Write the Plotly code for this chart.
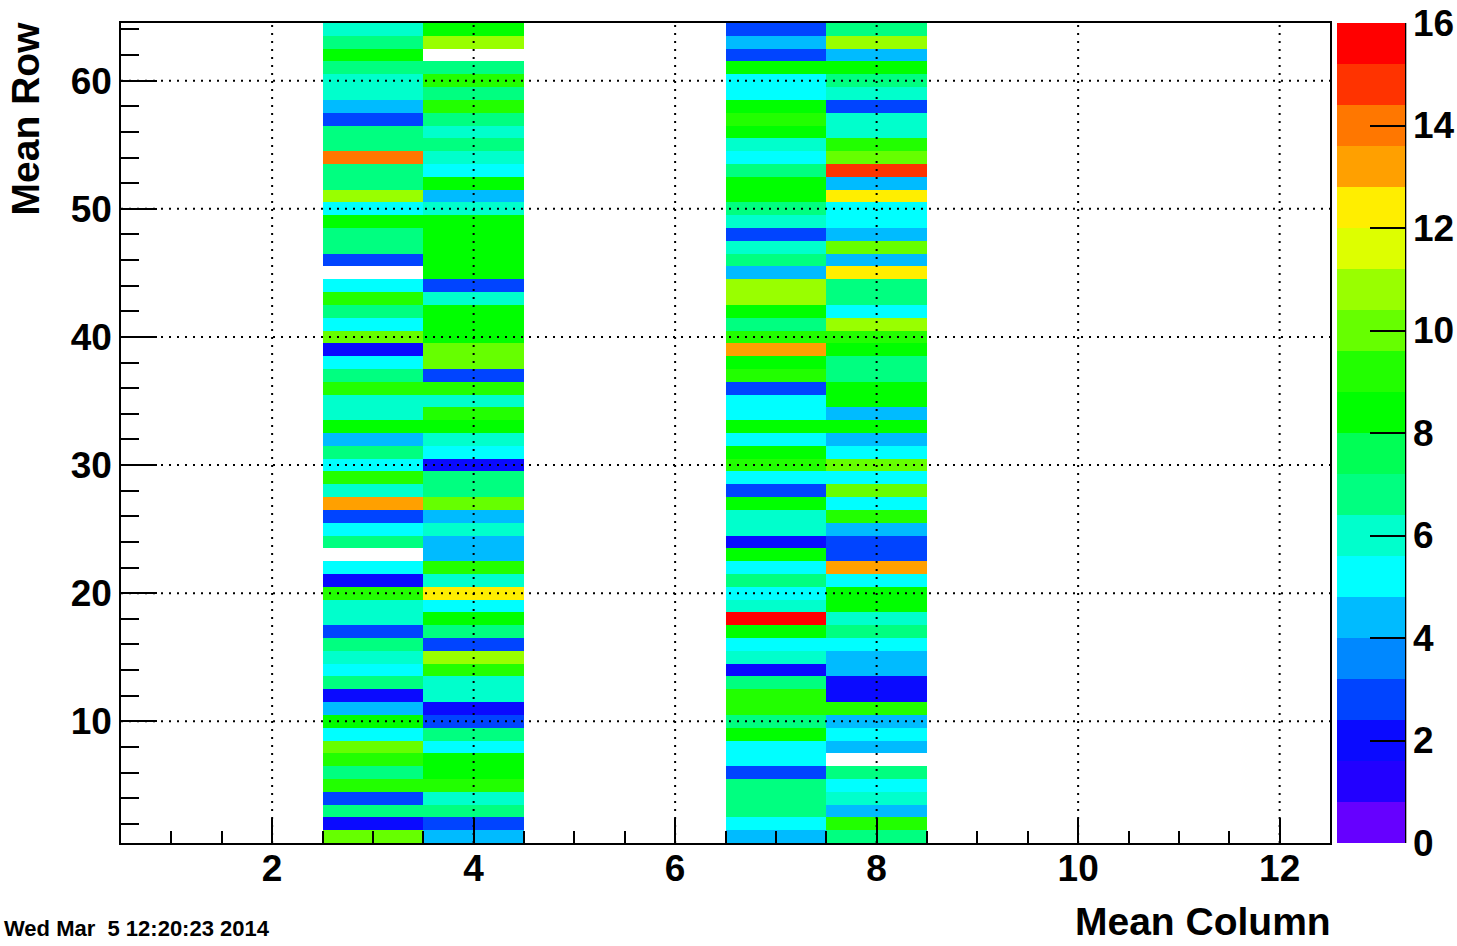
import plotly.graph_objects as go

# ---------------- data (counts per bin, rows 1..64) ----------------
columns = [3, 4, 7, 8]
col3 = [10, 2, 7, 3, 9, 7, 9, 10, 5, 8, 4, 2, 7, 5, 6, 7, 3, 6, 6, 9, 2, 5, 0, 7, 5, 3, 13, 6, 9, 5, 7, 4,
        8, 6, 6, 9, 7, 5, 2, 10, 5, 7, 9, 5, 0, 3, 7, 7, 8, 5, 11, 7, 7, 14, 7, 7, 3, 4, 6, 6, 7, 8, 7, 6]
col4 = [4, 3, 7, 6, 9, 8, 8, 5, 7, 3, 2, 6, 6, 9, 11, 3, 7, 8, 5, 12, 6, 9, 4, 4, 6, 4, 10, 7, 7, 2, 5, 6,
        8, 9, 6, 9, 3, 10, 10, 8, 8, 8, 6, 3, 8, 8, 8, 8, 8, 6, 4, 8, 5, 6, 7, 6, 7, 9, 7, 9, 7, 0, 11, 8]
col7 = [4, 5, 7, 7, 7, 3, 5, 5, 8, 7, 9, 9, 7, 2, 6, 5, 8, 16, 6, 5, 7, 5, 8, 2, 6, 6, 8, 3, 5, 9, 8, 5,
        8, 5, 5, 3, 9, 8, 13, 9, 7, 8, 11, 11, 4, 7, 6, 3, 6, 7, 8, 8, 7, 5, 6, 8, 9, 8, 5, 5, 8, 3, 4, 3]
col8 = [7, 9, 4, 6, 5, 7, 0, 4, 5, 4, 9, 2, 2, 4, 4, 5, 7, 6, 8, 8, 5, 13, 3, 3, 4, 9, 5, 10, 5, 10, 5, 4,
        8, 4, 8, 8, 7, 7, 8, 9, 11, 5, 7, 7, 12, 4, 10, 4, 5, 5, 12, 4, 15, 10, 9, 6, 6, 3, 6, 7, 8, 4, 11, 7]

n_cols = 12
n_rows = 64
x_ticks = [2, 4, 6, 8, 10, 12]
y_ticks = [10, 20, 30, 40, 50, 60]
z_ticks = [0, 2, 4, 6, 8, 10, 12, 14, 16]
z_min, z_max = 0, 16

palette = ["#6600ff", "#2200ff", "#0a0aff", "#0044ff", "#0088ff", "#00bbff", "#00ffff",
           "#00ffcc", "#00ff80", "#00ff55", "#00ff00", "#22ff00", "#66ff00", "#99ff00",
           "#ddff00", "#ffee00", "#ffa000", "#ff7700", "#ff3300", "#ff0000"]

# ---------------- build grid ----------------
data_cols = {3: col3, 4: col4, 7: col7, 8: col8}
xs = list(range(1, n_cols + 1))
ys = list(range(1, n_rows + 1))
z = []
for r in range(n_rows):
    row = []
    for c in xs:
        if c in data_cols and data_cols[c][r] > 0:
            row.append(data_cols[c][r])
        else:
            row.append(None)
    z.append(row)

eps = 0.0005
nlev = len(palette)
cscale = []
for k, col in enumerate(palette):
    lo = 0 if k == 0 else k / nlev - eps
    hi = 1 if k == nlev - 1 else (k + 1) / nlev - eps
    cscale.append([lo, col])
    cscale.append([hi, col])

FONT = "Liberation Sans"
fig = go.Figure()
fig.add_trace(go.Heatmap(
    x=xs, y=ys, z=z, zmin=z_min, zmax=z_max, colorscale=cscale,
    hoverongaps=False,
    colorbar=dict(
        x=1.0058, xanchor="left", y=0.5, yanchor="middle",
        len=1, lenmode="fraction", thickness=68, thicknessmode="pixels",
        xpad=0, ypad=0, outlinewidth=0,
        tickmode="array", tickvals=z_ticks, ticktext=[str(t) for t in z_ticks],
        ticks="inside", ticklen=35, tickwidth=1.5, tickcolor="black",
        ticklabeloverflow="allow",
        tickfont=dict(family=FONT, size=37, color="black", weight="bold"),
    ),
))

grid_line = dict(color="black", width=2, dash="2px,6px")
shapes = []
for xv in x_ticks:
    shapes.append(dict(type="line", xref="x", yref="paper", x0=xv, x1=xv, y0=0, y1=1,
                       line=grid_line, layer="above"))
for yv in y_ticks:
    shapes.append(dict(type="line", xref="paper", yref="y", x0=0, x1=1, y0=yv, y1=yv,
                       line=grid_line, layer="above"))
# right edge of palette axis
shapes.append(dict(type="line", xref="paper", yref="paper", x0=1.0625, x1=1.0625, y0=0, y1=1,
                   line=dict(color="black", width=1.5), layer="above"))

fig.update_layout(
    width=1457, height=946,
    margin=dict(l=121, r=127, t=23, b=103, autoexpand=False),
    paper_bgcolor="white", plot_bgcolor="white",
    shapes=shapes,
    xaxis=dict(
        range=[0.5, 12.5], tickmode="array", tickvals=x_ticks, automargin=False,
        ticks="inside", ticklen=25, tickwidth=1.5, tickcolor="black",
        minor=dict(dtick=0.5, tick0=0, ticks="inside", ticklen=12, tickwidth=1.5, tickcolor="black"),
        showline=True, linecolor="black", linewidth=1.5, mirror=True,
        showgrid=False, zeroline=False, layer="above traces",
        ticklabelstandoff=-8,
        tickfont=dict(family=FONT, size=37, color="black", weight="bold"),
    ),
    yaxis=dict(
        range=[0.5, 64.5], tickmode="array", tickvals=y_ticks, automargin=False,
        ticks="inside", ticklen=36, tickwidth=1.5, tickcolor="black",
        minor=dict(dtick=2, tick0=0, ticks="inside", ticklen=18, tickwidth=1.5, tickcolor="black"),
        showline=True, linecolor="black", linewidth=1.5, mirror=True,
        showgrid=False, zeroline=False, layer="above traces",
        tickfont=dict(family=FONT, size=37, color="black", weight="bold"),
    ),
    annotations=[
        dict(text="<b>Mean Column</b>", xref="paper", yref="paper", x=1.0025, y=-0.0963,
             xanchor="right", yanchor="middle", showarrow=False,
             font=dict(family=FONT, size=39, color="black")),
        dict(text="<b>Mean Row</b>", xref="paper", yref="paper", x=-0.079, y=1.005,
             xanchor="center", yanchor="top", textangle=-90, showarrow=False,
             font=dict(family=FONT, size=39, color="black")),
        dict(text="<b>Wed Mar  5 12:20:23 2014</b>", xref="paper", yref="paper",
             x=(272 - 121) / 1209, y=-0.1037, xanchor="right", yanchor="middle",
             showarrow=False, font=dict(family=FONT, size=22, color="black")),
    ],
)

# remove the browser's default 8px body margin so the figure fills the window exactly
fig.write_html("out.html", config={"displayModeBar": False},
               post_script="document.body.style.margin='0px';")
